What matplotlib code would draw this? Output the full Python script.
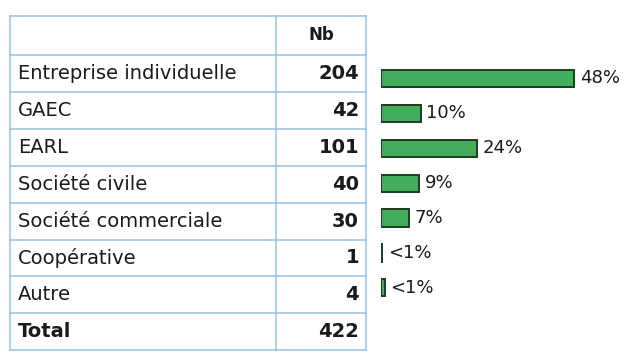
import matplotlib.pyplot as plt

categories = ["Entreprise individuelle", "GAEC", "EARL", "Société civile",
              "Société commerciale", "Coopérative", "Autre"]
counts = [204, 42, 101, 40, 30, 1, 4]
total = sum(counts)
percents = [c / total * 100 for c in counts]

W, H = 629, 352
fig = plt.figure(figsize=(W / 100, H / 100), dpi=100)
fig.patch.set_facecolor("white")

grid_col = "#97c3e0"
txt_col = "#1a1a1a"
fs = 14

# table drawn in pixel coordinates
tab = fig.add_axes([0, 0, 1, 1])
tab.set_xlim(0, W)
tab.set_ylim(H, 0)
tab.axis("off")

top, head_h, row_h = 16, 39, 36.9
x_left, x_div, x_right = 10, 276, 366
n_rows = len(categories) + 1
bottom = top + head_h + n_rows * row_h
for y in [top] + [top + head_h + i * row_h for i in range(n_rows + 1)]:
    tab.plot([x_left, x_right], [y, y], color=grid_col, lw=1.1)
for x in (x_left, x_div, x_right):
    tab.plot([x, x], [top, bottom], color=grid_col, lw=1.1)

tab.text((x_div + x_right) / 2, top + head_h / 2, "Nb", ha="center", va="center",
         fontsize=fs - 2, fontweight="bold", color=txt_col)
for i, (cat, n) in enumerate(zip(categories, counts)):
    yc = top + head_h + (i + 0.5) * row_h
    tab.text(18, yc, cat, ha="left", va="center", fontsize=fs, color=txt_col)
    tab.text(359, yc, str(n), ha="right", va="center", fontsize=fs,
             fontweight="bold", color=txt_col)
yc = bottom - row_h / 2
tab.text(18, yc, "Total", ha="left", va="center", fontsize=fs,
         fontweight="bold", color=txt_col)
tab.text(359, yc, str(total), ha="right", va="center", fontsize=fs,
         fontweight="bold", color=txt_col)

# bar chart to the right of the table
bx0, by0, step = 381, 61, 34.9
nb = len(categories)
ax = fig.add_axes([bx0 / W, (H - by0 - nb * step) / H,
                   (W - bx0) / W, nb * step / H])
ax.set_xlim(0, (W - bx0) / 4.0)
ax.set_ylim(nb - 0.5, -0.5)
ax.axis("off")

bars = ax.barh(range(nb), percents, height=0.49, color="#42ad5a",
               edgecolor="#1f3b22", linewidth=1.4)
for b, p in zip(bars, percents):
    lab = "<1%" if p < 1 else f"{round(p)}%"
    ax.annotate(lab, (max(p, 0.5), b.get_y() + b.get_height() / 2),
                xytext=(4, 0), textcoords="offset points", ha="left",
                va="center", fontsize=fs - 1, color=txt_col)

fig.savefig("out.png", dpi=100)
